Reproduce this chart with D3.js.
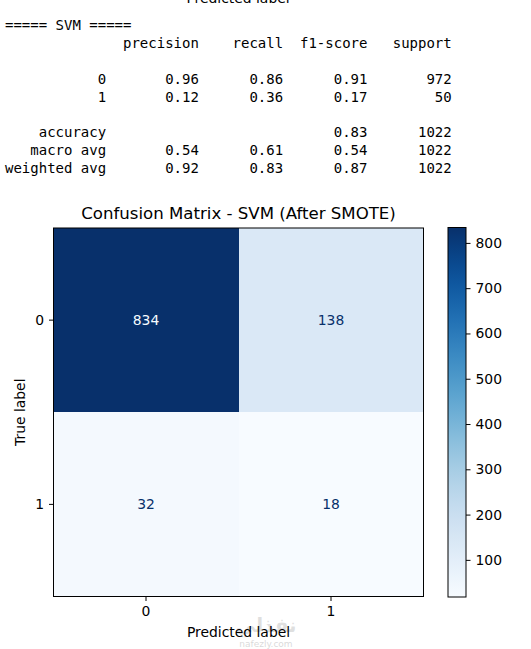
<!DOCTYPE html>
<html><head><meta charset="utf-8">
<script src="https://cdn.jsdelivr.net/npm/d3@7"></script>
<style>
html,body{margin:0;padding:0;background:#fff;}
svg text{font-family:"DejaVu Sans",sans-serif;}
.mono{font-family:"DejaVu Sans Mono",monospace;white-space:pre;font-size:14px;fill:#000;}
</style></head>
<body>
<svg id="c" width="531" height="649"></svg>
<script>
// ---- data ----
const reportTitle = "===== SVM =====";
const reportHeaders = ["precision", "recall", "f1-score", "support"];
const reportClasses = ["0", "1"];
const reportPrecision = [0.96, 0.12];
const reportRecall = [0.86, 0.36];
const reportF1 = [0.91, 0.17];
const reportSupport = [972, 50];
const accuracy = 0.83;
const totalSupport = 1022;
const avgNames = ["macro avg", "weighted avg"];
const avgPrecision = [0.54, 0.92];
const avgRecall = [0.61, 0.83];
const avgF1 = [0.54, 0.87];

const chartTitle = "Confusion Matrix - SVM (After SMOTE)";
const labels = ["0", "1"];
const matrix = [[834, 138], [32, 18]];
const cbTicks = [100, 200, 300, 400, 500, 600, 700, 800];

// ---- helpers ----
const padL = (s, w) => String(s).padStart(w, " ");
const f2 = v => v.toFixed(2);
const FS = 13.9;

const svg = d3.select("#c");

// cut-off label from previous figure
svg.append("text").attr("x", 238).attr("y", 3).attr("text-anchor", "middle")
  .attr("font-size", FS).attr("fill", "#000").text("Predicted label");

// ---- classification report ----
const lines = [];
lines.push(reportTitle);
lines.push(padL("", 12) + " " + reportHeaders.map(h => " " + padL(h, 9)).join(""));
lines.push("");
reportClasses.forEach((c, i) => {
  lines.push(padL(c, 12) + " " + [f2(reportPrecision[i]), f2(reportRecall[i]), f2(reportF1[i]), reportSupport[i]].map(v => " " + padL(v, 9)).join(""));
});
lines.push("");
lines.push(padL("accuracy", 12) + " " + ["", "", f2(accuracy), totalSupport].map(v => " " + padL(v, 9)).join(""));
avgNames.forEach((n, i) => {
  lines.push(padL(n, 12) + " " + [f2(avgPrecision[i]), f2(avgRecall[i]), f2(avgF1[i]), totalSupport].map(v => " " + padL(v, 9)).join(""));
});
const lineY = [29.5, 48, 66, 84, 102, 120, 137, 155, 173];
svg.append("g").selectAll("text").data(lines).join("text")
  .attr("class", "mono").attr("x", 5).attr("y", (d, i) => lineY[i]).text(d => d);

// ---- confusion matrix ----
const L = 53.5, R = 423.5, T = 228, B = 596.5;
const x = d3.scaleBand().domain(labels).range([L, R]);
const y = d3.scaleBand().domain(labels).range([T, B]);
const vals = matrix.flat();
const vmin = d3.min(vals), vmax = d3.max(vals);
const color = d3.scaleSequential(d3.interpolateBlues).domain([vmin, vmax]);
const thresh = (vmin + vmax) / 2;

const cells = [];
matrix.forEach((row, i) => row.forEach((v, j) => cells.push({r: labels[i], c: labels[j], v})));

svg.append("g").selectAll("rect").data(cells).join("rect")
  .attr("x", d => x(d.c)).attr("y", d => y(d.r))
  .attr("width", x.bandwidth()).attr("height", y.bandwidth())
  .attr("fill", d => color(d.v)).attr("shape-rendering", "crispEdges");

svg.append("g").selectAll("text").data(cells).join("text")
  .attr("x", d => x(d.c) + x.bandwidth() / 2)
  .attr("y", d => y(d.r) + y.bandwidth() / 2)
  .attr("dy", "0.35em").attr("text-anchor", "middle").attr("font-size", FS)
  .attr("fill", d => d.v > thresh ? d3.interpolateBlues(0) : d3.interpolateBlues(1))
  .text(d => d.v);

svg.append("rect").attr("x", L).attr("y", T).attr("width", R - L).attr("height", B - T)
  .attr("fill", "none").attr("stroke", "#000").attr("stroke-width", 1);

const xAxis = svg.append("g").attr("transform", `translate(0,${B})`)
  .call(d3.axisBottom(x).tickSize(4.5).tickPadding(5));
const yAxis = svg.append("g").attr("transform", `translate(${L},0)`)
  .call(d3.axisLeft(y).tickSize(4.5).tickPadding(5));
[xAxis, yAxis].forEach(a => {
  a.select(".domain").remove();
  a.selectAll("text").attr("font-size", FS).attr("fill", "#000").attr("font-family", "DejaVu Sans");
  a.selectAll("line").attr("stroke", "#000");
});

svg.append("text").attr("x", (L + R) / 2).attr("y", 219).attr("text-anchor", "middle")
  .attr("font-size", 16.6).attr("fill", "#000").text(chartTitle);
svg.append("text").attr("x", (L + R) / 2).attr("y", 637).attr("text-anchor", "middle")
  .attr("font-size", FS).attr("fill", "#000").text("Predicted label");
svg.append("text").attr("transform", `translate(25,${(T + B) / 2}) rotate(-90)`)
  .attr("text-anchor", "middle").attr("font-size", FS).attr("fill", "#000").text("True label");

// ---- colorbar ----
const cbL = 448, cbW = 18;
const cbY = d3.scaleLinear().domain([vmin, vmax]).range([597, 227.5]);
const defs = svg.append("defs");
const grad = defs.append("linearGradient").attr("id", "cbg").attr("x1", 0).attr("y1", 1).attr("x2", 0).attr("y2", 0);
d3.range(0, 1.0001, 0.05).forEach(t => grad.append("stop").attr("offset", t).attr("stop-color", d3.interpolateBlues(t)));
svg.append("rect").attr("x", cbL).attr("y", cbY(vmax)).attr("width", cbW).attr("height", cbY(vmin) - cbY(vmax))
  .attr("fill", "url(#cbg)").attr("stroke", "#000").attr("stroke-width", 1);
const cbAxis = svg.append("g").attr("transform", `translate(${cbL + cbW},0)`)
  .call(d3.axisRight(cbY).tickValues(cbTicks).tickSize(4.5).tickPadding(5));
cbAxis.select(".domain").remove();
cbAxis.selectAll("text").attr("font-size", FS).attr("fill", "#000").attr("font-family", "DejaVu Sans");
cbAxis.selectAll("line").attr("stroke", "#000");

// ---- watermark ----
svg.append("text").attr("x", 266).attr("y", 632).attr("text-anchor", "middle")
  .attr("font-size", 20).attr("font-weight", "bold").attr("fill", "#000").attr("opacity", 0.12)
  .attr("font-family", "DejaVu Sans").text("نفذلي");
svg.append("text").attr("x", 266).attr("y", 647).attr("text-anchor", "middle")
  .attr("font-size", 9).attr("fill", "#000").attr("opacity", 0.15).text("nafezly.com");
</script>
</body></html>
